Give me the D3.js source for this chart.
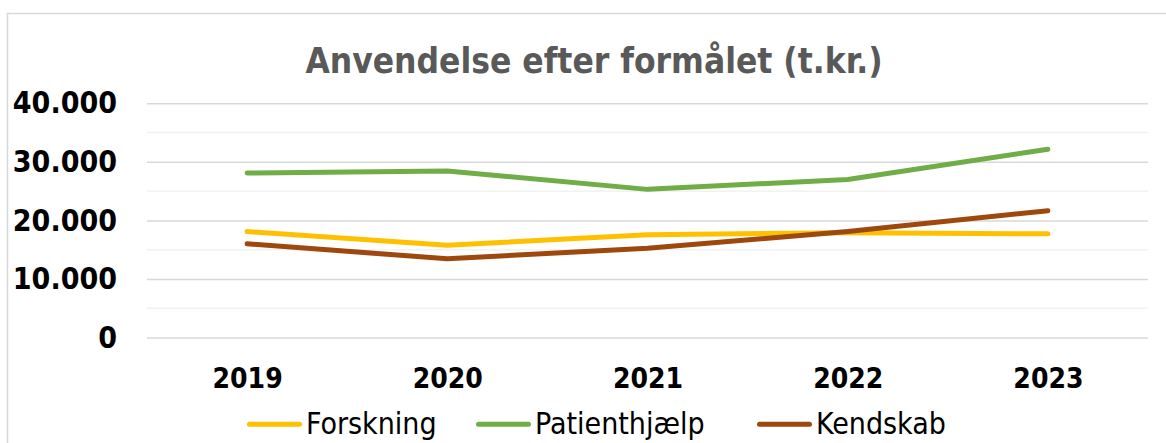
<!DOCTYPE html>
<html>
<head>
<meta charset="utf-8">
<script src="https://cdn.jsdelivr.net/npm/d3@7"></script>
<style>
  html, body { margin: 0; padding: 0; background: #fff; }
  svg { display: block; font-family: "DejaVu Sans Condensed", "DejaVu Sans", sans-serif; font-stretch: condensed; }
</style>
</head>
<body>
<div id="chart"></div>
<script>
// values (t.kr.)
const years = ["2019", "2020", "2021", "2022", "2023"];
const forskning = [18100, 15750, 17550, 17900, 17700];
const patienthjaelp = [28100, 28450, 25300, 27000, 32150];
const kendskab = [16000, 13450, 15250, 18100, 21650];
const seriesNames = ["Forskning", "Patienthjælp", "Kendskab"];
const yTicks = [0, 10000, 20000, 30000, 40000];
const yMinorTicks = [5000, 15000, 25000, 35000];

const colours = ["#FFC000", "#70AD47", "#9E480E"];
const series = [forskning, patienthjaelp, kendskab];

var width = 1166;
var height = 443;

var svg = d3.select("#chart")
  .append("svg")
  .attr("width", width)
  .attr("height", height);

// chart border
svg.append("rect")
  .attr("x", 7.5)
  .attr("y", 13.5)
  .attr("width", 1250)
  .attr("height", 500)
  .attr("fill", "#fff")
  .attr("stroke", "#d9d9d9")
  .attr("stroke-width", 1.5);

const x = d3.scalePoint()
  .domain(years)
  .range([147, 1148])
  .padding(0.5);

const y = d3.scaleLinear()
  .domain([0, 40000])
  .range([337.5, 103.3]);

// danish number format, 40.000
const da = d3.formatLocale({ decimal: ",", thousands: ".", grouping: [3], currency: ["", " kr."] });
const fmt = da.format(",.0f");

// minor gridlines
svg.append("g")
  .selectAll("line")
  .data(yMinorTicks)
  .enter()
  .append("line")
  .attr("x1", 147)
  .attr("x2", 1148)
  .attr("y1", d => y(d))
  .attr("y2", d => y(d))
  .attr("stroke", "#f2f2f2")
  .attr("stroke-width", 1.5);

// major gridlines + labels via axis
const yAxis = svg.append("g")
  .attr("transform", "translate(147,0)")
  .call(d3.axisLeft(y).tickValues(yTicks).tickFormat(fmt).tickSize(-1001).tickPadding(30))
  .attr("font-family", null)
  .attr("font-size", 30);

yAxis.select(".domain").remove();
yAxis.selectAll(".tick line")
  .attr("stroke", "#d9d9d9")
  .attr("stroke-width", 1.5);
yAxis.selectAll(".tick text")
  .attr("fill", "#000")
  .attr("font-weight", "bold");

const xAxis = svg.append("g")
  .attr("transform", "translate(0,337.5)")
  .call(d3.axisBottom(x).tickSize(0).tickPadding(0))
  .attr("font-family", null)
  .attr("font-size", 28);

xAxis.select(".domain").remove();
xAxis.selectAll(".tick text")
  .attr("fill", "#000")
  .attr("font-weight", "bold")
  .attr("dy", null)
  .attr("y", 50.5);

// lines
const line = d3.line()
  .x((d, i) => x(years[i]))
  .y(d => y(d));

svg.append("g")
  .selectAll("path")
  .data(series)
  .enter()
  .append("path")
  .attr("d", d => line(d))
  .attr("fill", "none")
  .attr("stroke", (d, i) => colours[i])
  .attr("stroke-width", 5)
  .attr("stroke-linecap", "round")
  .attr("stroke-linejoin", "round");

// title
svg.append("text")
  .attr("x", 594)
  .attr("y", 72.5)
  .attr("text-anchor", "middle")
  .attr("fill", "#595959")
  .attr("font-size", 35)
  .attr("font-weight", "bold")
  .text("Anvendelse efter formålet (t.kr.)");

// legend, item start positions
const legendX = [247, 476, 757];
const legend = svg.append("g");
seriesNames.forEach(function (name, i) {
  legend.append("line")
    .attr("x1", legendX[i] + 2.5)
    .attr("x2", legendX[i] + 52.5)
    .attr("y1", 424.3)
    .attr("y2", 424.3)
    .attr("stroke", colours[i])
    .attr("stroke-width", 5)
    .attr("stroke-linecap", "round");
  legend.append("text")
    .attr("x", legendX[i] + 59)
    .attr("y", 434.3)
    .attr("fill", "#000")
    .attr("font-size", 30)
    .text(name);
});
</script>
</body>
</html>
